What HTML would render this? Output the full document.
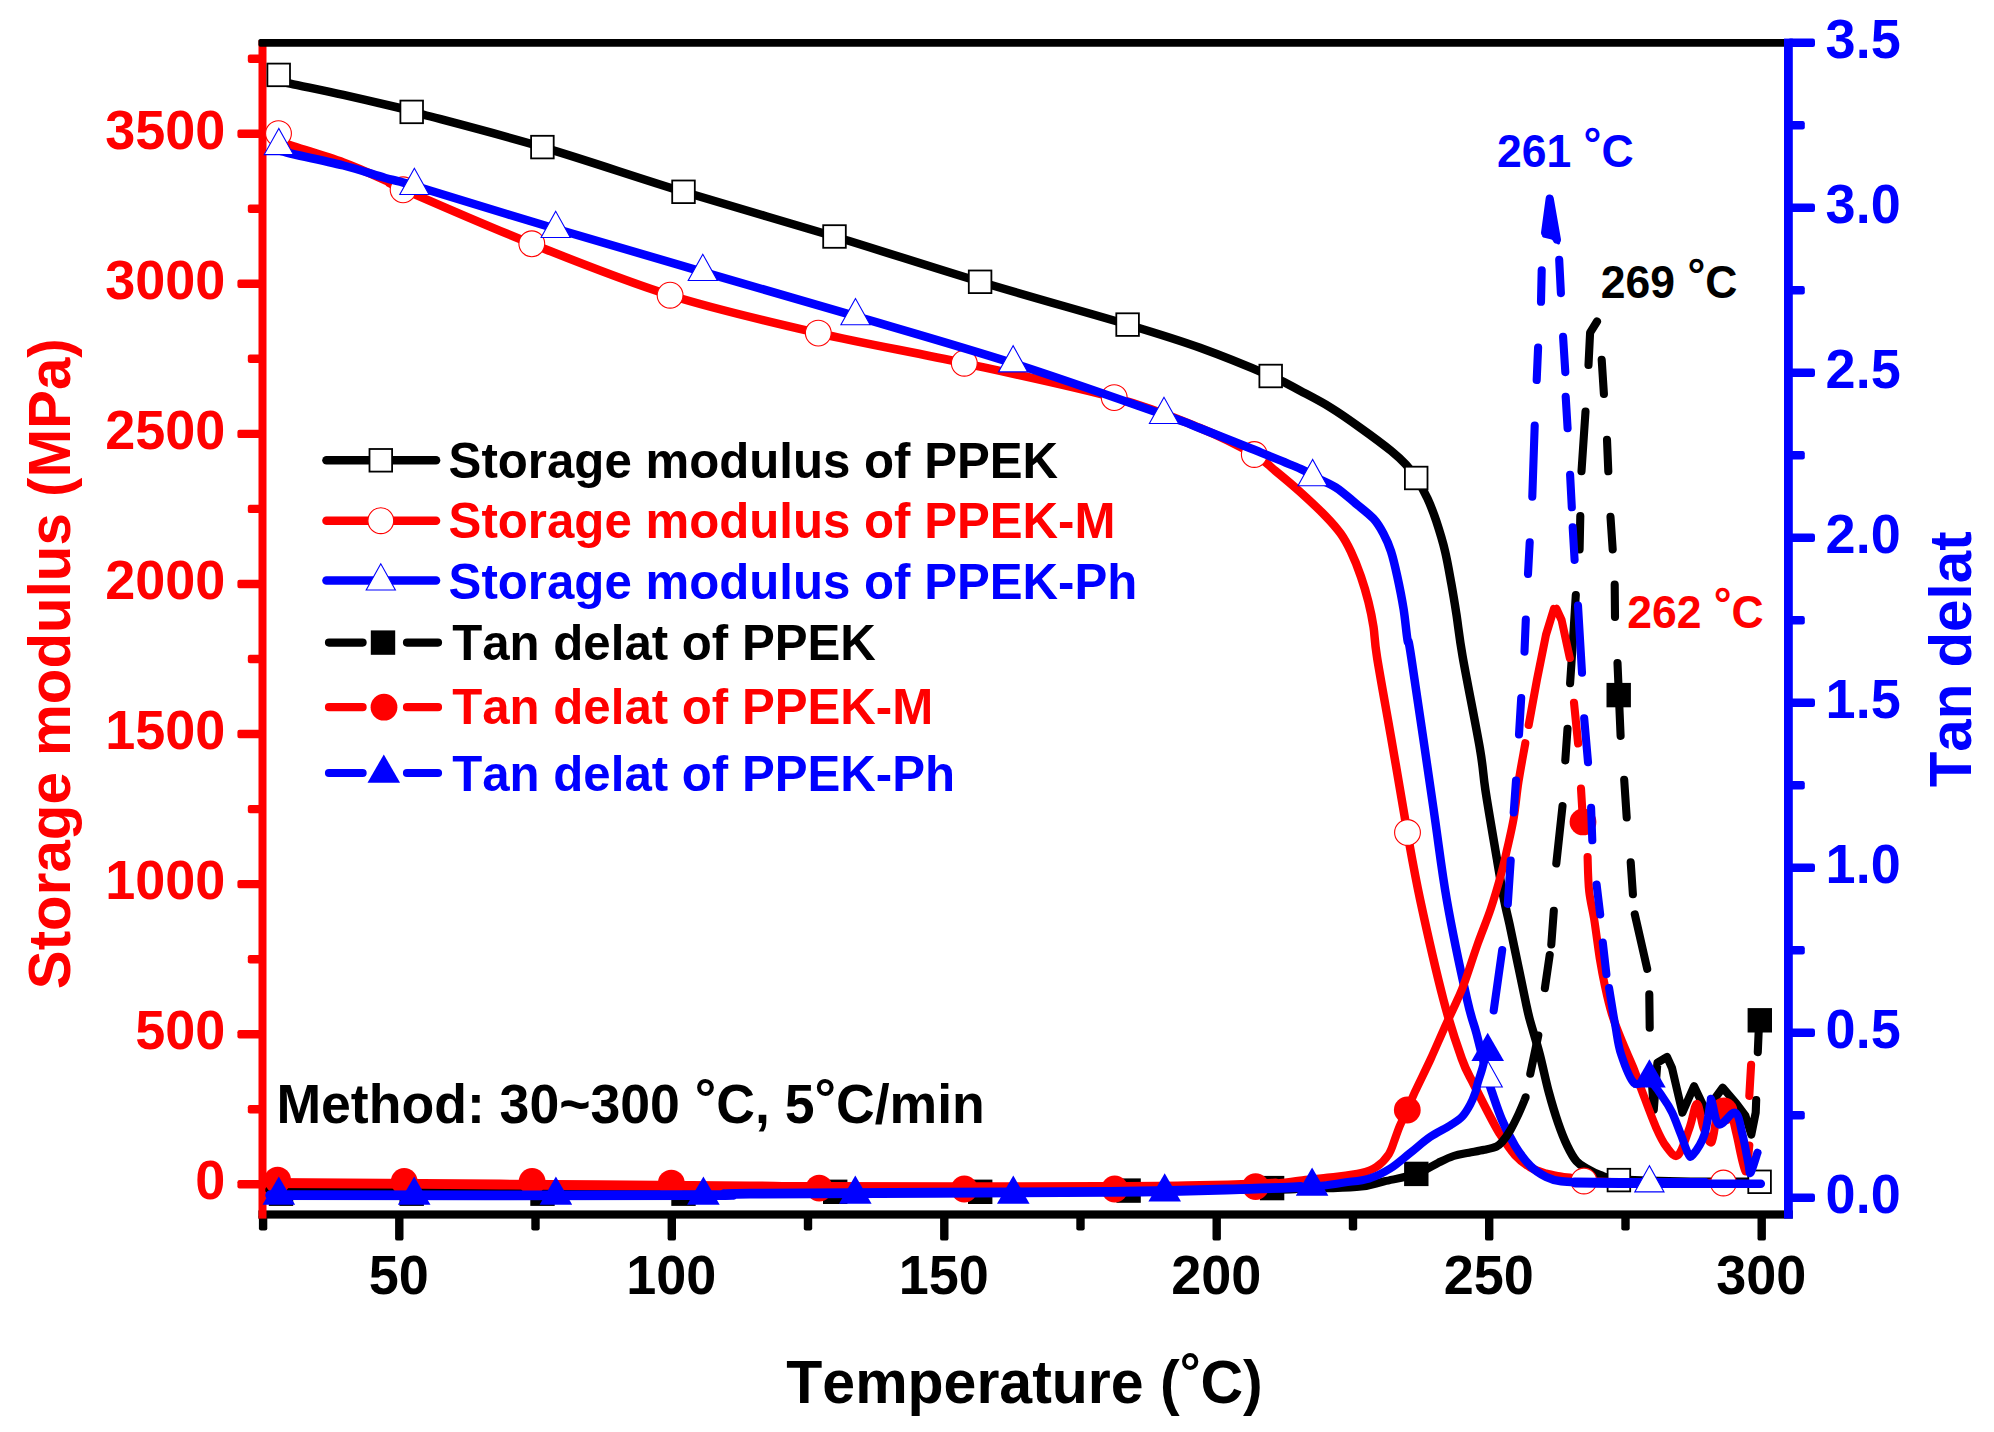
<!DOCTYPE html>
<html lang="en"><head><meta charset="utf-8"><title>DMA curves of PPEK, PPEK-M and PPEK-Ph</title>
<style>html,body{margin:0;padding:0;background:#fff}svg{display:block}text{font-kerning:none;font-feature-settings:'kern' 0;white-space:pre}</style></head>
<body>
<svg width="1994" height="1432" viewBox="0 0 1994 1432">
<rect width="1994" height="1432" fill="#fff"/>
<rect x="258.4" y="1210.4" width="1534.4" height="8.2" fill="#000000"/>
<rect x="258.9" y="1214" width="8.4" height="16.4" rx="2.2" fill="#000000"/>
<rect x="395.1" y="1214" width="8.4" height="26.6" rx="2.2" fill="#000000"/>
<rect x="531.3" y="1214" width="8.4" height="16.4" rx="2.2" fill="#000000"/>
<rect x="667.6" y="1214" width="8.4" height="26.6" rx="2.2" fill="#000000"/>
<rect x="803.8" y="1214" width="8.4" height="16.4" rx="2.2" fill="#000000"/>
<rect x="940.1" y="1214" width="8.4" height="26.6" rx="2.2" fill="#000000"/>
<rect x="1076.3" y="1214" width="8.4" height="16.4" rx="2.2" fill="#000000"/>
<rect x="1212.5" y="1214" width="8.4" height="26.6" rx="2.2" fill="#000000"/>
<rect x="1348.8" y="1214" width="8.4" height="16.4" rx="2.2" fill="#000000"/>
<rect x="1485" y="1214" width="8.4" height="26.6" rx="2.2" fill="#000000"/>
<rect x="1621.3" y="1214" width="8.4" height="16.4" rx="2.2" fill="#000000"/>
<rect x="1757.5" y="1214" width="8.4" height="26.6" rx="2.2" fill="#000000"/>
<rect x="258.5" y="40" width="8" height="1178.6" fill="#ff0000"/>
<rect x="237.4" y="1180.1" width="24.6" height="8.4" rx="2.2" fill="#ff0000"/>
<rect x="247.8" y="1105.1" width="14.2" height="8.4" rx="2.2" fill="#ff0000"/>
<rect x="237.4" y="1030" width="24.6" height="8.4" rx="2.2" fill="#ff0000"/>
<rect x="247.8" y="955" width="14.2" height="8.4" rx="2.2" fill="#ff0000"/>
<rect x="237.4" y="879.9" width="24.6" height="8.4" rx="2.2" fill="#ff0000"/>
<rect x="247.8" y="804.9" width="14.2" height="8.4" rx="2.2" fill="#ff0000"/>
<rect x="237.4" y="729.8" width="24.6" height="8.4" rx="2.2" fill="#ff0000"/>
<rect x="247.8" y="654.8" width="14.2" height="8.4" rx="2.2" fill="#ff0000"/>
<rect x="237.4" y="579.8" width="24.6" height="8.4" rx="2.2" fill="#ff0000"/>
<rect x="247.8" y="504.7" width="14.2" height="8.4" rx="2.2" fill="#ff0000"/>
<rect x="237.4" y="429.7" width="24.6" height="8.4" rx="2.2" fill="#ff0000"/>
<rect x="247.8" y="354.6" width="14.2" height="8.4" rx="2.2" fill="#ff0000"/>
<rect x="237.4" y="279.6" width="24.6" height="8.4" rx="2.2" fill="#ff0000"/>
<rect x="247.8" y="204.5" width="14.2" height="8.4" rx="2.2" fill="#ff0000"/>
<rect x="237.4" y="129.5" width="24.6" height="8.4" rx="2.2" fill="#ff0000"/>
<rect x="247.8" y="54.5" width="14.2" height="8.4" rx="2.2" fill="#ff0000"/>
<rect x="258.4" y="38.9" width="1531.6" height="7.8" rx="2" fill="#000000"/>
<rect x="1784" y="38.6" width="8.8" height="1180" fill="#0000ff"/>
<rect x="1788" y="1193.5" width="27" height="8.4" rx="2.2" fill="#0000ff"/>
<rect x="1788" y="1111" width="16.8" height="8.4" rx="2.2" fill="#0000ff"/>
<rect x="1788" y="1028.5" width="27" height="8.4" rx="2.2" fill="#0000ff"/>
<rect x="1788" y="946" width="16.8" height="8.4" rx="2.2" fill="#0000ff"/>
<rect x="1788" y="863.5" width="27" height="8.4" rx="2.2" fill="#0000ff"/>
<rect x="1788" y="781" width="16.8" height="8.4" rx="2.2" fill="#0000ff"/>
<rect x="1788" y="698.5" width="27" height="8.4" rx="2.2" fill="#0000ff"/>
<rect x="1788" y="616" width="16.8" height="8.4" rx="2.2" fill="#0000ff"/>
<rect x="1788" y="533.5" width="27" height="8.4" rx="2.2" fill="#0000ff"/>
<rect x="1788" y="451" width="16.8" height="8.4" rx="2.2" fill="#0000ff"/>
<rect x="1788" y="368.5" width="27" height="8.4" rx="2.2" fill="#0000ff"/>
<rect x="1788" y="286" width="16.8" height="8.4" rx="2.2" fill="#0000ff"/>
<rect x="1788" y="203.5" width="27" height="8.4" rx="2.2" fill="#0000ff"/>
<rect x="1788" y="121" width="16.8" height="8.4" rx="2.2" fill="#0000ff"/>
<rect x="1788" y="38.5" width="27" height="8.4" rx="2.2" fill="#0000ff"/>
<text transform="translate(225.4 1199.2) scale(1 1.02)" font-size="54" fill="#ff0000" text-anchor="end" font-family="Liberation Sans, Arial, Helvetica, sans-serif" font-weight="bold" font-kerning="none" >0</text>
<text transform="translate(225.4 1049.1) scale(1 1.02)" font-size="54" fill="#ff0000" text-anchor="end" font-family="Liberation Sans, Arial, Helvetica, sans-serif" font-weight="bold" font-kerning="none" >500</text>
<text transform="translate(225.4 899) scale(1 1.02)" font-size="54" fill="#ff0000" text-anchor="end" font-family="Liberation Sans, Arial, Helvetica, sans-serif" font-weight="bold" font-kerning="none" >1000</text>
<text transform="translate(225.4 748.9) scale(1 1.02)" font-size="54" fill="#ff0000" text-anchor="end" font-family="Liberation Sans, Arial, Helvetica, sans-serif" font-weight="bold" font-kerning="none" >1500</text>
<text transform="translate(225.4 598.9) scale(1 1.02)" font-size="54" fill="#ff0000" text-anchor="end" font-family="Liberation Sans, Arial, Helvetica, sans-serif" font-weight="bold" font-kerning="none" >2000</text>
<text transform="translate(225.4 448.8) scale(1 1.02)" font-size="54" fill="#ff0000" text-anchor="end" font-family="Liberation Sans, Arial, Helvetica, sans-serif" font-weight="bold" font-kerning="none" >2500</text>
<text transform="translate(225.4 298.7) scale(1 1.02)" font-size="54" fill="#ff0000" text-anchor="end" font-family="Liberation Sans, Arial, Helvetica, sans-serif" font-weight="bold" font-kerning="none" >3000</text>
<text transform="translate(225.4 148.6) scale(1 1.02)" font-size="54" fill="#ff0000" text-anchor="end" font-family="Liberation Sans, Arial, Helvetica, sans-serif" font-weight="bold" font-kerning="none" >3500</text>
<text transform="translate(1825.6 1213.1) scale(1 1.02)" font-size="54" fill="#0000ff" text-anchor="start" font-family="Liberation Sans, Arial, Helvetica, sans-serif" font-weight="bold" font-kerning="none" >0.0</text>
<text transform="translate(1825.6 1048.1) scale(1 1.02)" font-size="54" fill="#0000ff" text-anchor="start" font-family="Liberation Sans, Arial, Helvetica, sans-serif" font-weight="bold" font-kerning="none" >0.5</text>
<text transform="translate(1825.6 883.1) scale(1 1.02)" font-size="54" fill="#0000ff" text-anchor="start" font-family="Liberation Sans, Arial, Helvetica, sans-serif" font-weight="bold" font-kerning="none" >1.0</text>
<text transform="translate(1825.6 718.1) scale(1 1.02)" font-size="54" fill="#0000ff" text-anchor="start" font-family="Liberation Sans, Arial, Helvetica, sans-serif" font-weight="bold" font-kerning="none" >1.5</text>
<text transform="translate(1825.6 553.1) scale(1 1.02)" font-size="54" fill="#0000ff" text-anchor="start" font-family="Liberation Sans, Arial, Helvetica, sans-serif" font-weight="bold" font-kerning="none" >2.0</text>
<text transform="translate(1825.6 388.1) scale(1 1.02)" font-size="54" fill="#0000ff" text-anchor="start" font-family="Liberation Sans, Arial, Helvetica, sans-serif" font-weight="bold" font-kerning="none" >2.5</text>
<text transform="translate(1825.6 223.1) scale(1 1.02)" font-size="54" fill="#0000ff" text-anchor="start" font-family="Liberation Sans, Arial, Helvetica, sans-serif" font-weight="bold" font-kerning="none" >3.0</text>
<text transform="translate(1825.6 58.1) scale(1 1.02)" font-size="54" fill="#0000ff" text-anchor="start" font-family="Liberation Sans, Arial, Helvetica, sans-serif" font-weight="bold" font-kerning="none" >3.5</text>
<text transform="translate(398.8 1294.3) scale(1 1.02)" font-size="54" fill="#000000" text-anchor="middle" font-family="Liberation Sans, Arial, Helvetica, sans-serif" font-weight="bold" font-kerning="none" >50</text>
<text transform="translate(671.3 1294.3) scale(1 1.02)" font-size="54" fill="#000000" text-anchor="middle" font-family="Liberation Sans, Arial, Helvetica, sans-serif" font-weight="bold" font-kerning="none" >100</text>
<text transform="translate(943.8 1294.3) scale(1 1.02)" font-size="54" fill="#000000" text-anchor="middle" font-family="Liberation Sans, Arial, Helvetica, sans-serif" font-weight="bold" font-kerning="none" >150</text>
<text transform="translate(1216.2 1294.3) scale(1 1.02)" font-size="54" fill="#000000" text-anchor="middle" font-family="Liberation Sans, Arial, Helvetica, sans-serif" font-weight="bold" font-kerning="none" >200</text>
<text transform="translate(1488.7 1294.3) scale(1 1.02)" font-size="54" fill="#000000" text-anchor="middle" font-family="Liberation Sans, Arial, Helvetica, sans-serif" font-weight="bold" font-kerning="none" >250</text>
<text transform="translate(1761.2 1294.3) scale(1 1.02)" font-size="54" fill="#000000" text-anchor="middle" font-family="Liberation Sans, Arial, Helvetica, sans-serif" font-weight="bold" font-kerning="none" >300</text>
<text transform="translate(1024.5 1402.9) scale(1 1.02)" font-size="59" fill="#000000" text-anchor="middle" font-family="Liberation Sans, Arial, Helvetica, sans-serif" font-weight="bold" font-kerning="none" >Temperature (<tspan font-size="52" dy="-11.2">°</tspan><tspan dy="11.2">C)</tspan></text>
<text transform="translate(70 663.7) rotate(-90) scale(1 1.02)" font-size="58.3" fill="#ff0000" text-anchor="middle" font-family="Liberation Sans, Arial, Helvetica, sans-serif" font-weight="bold" font-kerning="none" >Storage modulus (MPa)</text>
<text transform="translate(1970.6 659.4) rotate(-90) scale(1 1.02)" font-size="58.3" fill="#0000ff" text-anchor="middle" font-family="Liberation Sans, Arial, Helvetica, sans-serif" font-weight="bold" font-kerning="none" >Tan delat</text>
<path d="M278.6 80.5C280.6 81 279.6 81.2 290.4 83.6C301.2 86 325.1 90.8 343.4 94.9C361.7 99 388.6 105.2 400 108C411.4 110.8 388 105 411.7 111.5C435.4 118 497.1 133.7 542.4 147.1C587.7 160.5 634.8 176.9 683.5 191.8C732.2 206.7 785.1 221.5 834.5 236.5C883.9 251.5 931.2 267.1 980.1 281.8C1029 296.5 1090.9 313.6 1127.6 324.6C1164.2 335.6 1176.2 339.2 1200 347.8C1223.8 356.4 1253.9 368.8 1270.7 376C1287.5 383.2 1290.6 385.7 1300.6 391C1310.6 396.3 1320.7 401.4 1330.7 407.6C1340.8 413.8 1350.9 421 1360.9 428.2C1371 435.4 1383.5 444.7 1391 450.8C1398.5 456.9 1401.8 460.2 1406 464.7C1410.2 469.2 1412.6 472.4 1416.2 478C1419.8 483.6 1424.2 491.4 1427.5 498.6C1430.8 505.8 1433.4 512.4 1436.3 521.2C1439.2 530 1442.6 540.9 1445.1 551.4C1447.6 561.9 1449.5 573.6 1451.4 584.1C1453.3 594.6 1454.5 602.1 1456.4 614.2C1458.3 626.4 1458.8 634.6 1462.7 657C1466.6 679.4 1476.1 726.3 1479.9 748.5C1483.7 770.7 1482.6 771.5 1485.4 790C1488.2 808.5 1493.9 841.3 1497 859.6C1500.1 877.9 1502 889.2 1504.1 900C1506.2 910.8 1507.2 913.3 1509.5 924.2C1511.8 935.1 1515.5 952.7 1518.1 965.3C1520.7 977.9 1523.4 991 1525.3 1000C1527.2 1009 1527.2 1010 1529.6 1019C1532 1028 1536.4 1041.6 1539.6 1053.8C1542.8 1066 1545.7 1080.7 1548.8 1092.2C1551.9 1103.7 1555 1114 1558.1 1122.9C1561.2 1131.9 1564.2 1139.5 1567.3 1145.9C1570.4 1152.3 1573.2 1157.5 1576.5 1161.3C1579.8 1165.1 1583.4 1166.7 1587.3 1169C1591.2 1171.3 1594.7 1173.3 1600 1175.1C1605.3 1176.8 1605.6 1178.4 1618.9 1179.5C1632.2 1180.6 1656.5 1181.1 1680 1181.5C1703.5 1181.9 1746.3 1181.8 1759.6 1181.8" fill="none" stroke="#000000" stroke-width="8.5" stroke-linecap="round" stroke-linejoin="round"/>
<rect x="267.4" y="63.6" width="22.6" height="22.6" fill="#fff" stroke="#000000" stroke-width="1.8"/>
<rect x="400.4" y="100.6" width="22.6" height="22.6" fill="#fff" stroke="#000000" stroke-width="1.8"/>
<rect x="531.1" y="135.8" width="22.6" height="22.6" fill="#fff" stroke="#000000" stroke-width="1.8"/>
<rect x="672.2" y="180.5" width="22.6" height="22.6" fill="#fff" stroke="#000000" stroke-width="1.8"/>
<rect x="823.2" y="225.2" width="22.6" height="22.6" fill="#fff" stroke="#000000" stroke-width="1.8"/>
<rect x="968.8" y="270.5" width="22.6" height="22.6" fill="#fff" stroke="#000000" stroke-width="1.8"/>
<rect x="1116.3" y="313.3" width="22.6" height="22.6" fill="#fff" stroke="#000000" stroke-width="1.8"/>
<rect x="1259.4" y="364.7" width="22.6" height="22.6" fill="#fff" stroke="#000000" stroke-width="1.8"/>
<rect x="1404.9" y="466.7" width="22.6" height="22.6" fill="#fff" stroke="#000000" stroke-width="1.8"/>
<rect x="1607.6" y="1168.8" width="22.6" height="22.6" fill="#fff" stroke="#000000" stroke-width="1.8"/>
<rect x="1748.3" y="1170.5" width="22.6" height="22.6" fill="#fff" stroke="#000000" stroke-width="1.8"/>
<path d="M278.5 140.5C280.5 141.3 279.6 141.5 290.4 145.2C301.2 148.8 327.6 156.6 343.4 162.4C359.2 168.2 375.4 175.8 385.3 180.3C395.2 184.8 378.7 178.6 403.1 189.2C427.5 199.8 487.3 226.1 531.8 243.8C576.3 261.5 622.4 280.3 670.1 295.2C717.9 310.1 769.3 321.8 818.3 333.1C867.3 344.4 915 352.4 964.3 363.2C1013.6 373.9 1074.9 386.8 1114.2 397.6C1153.5 408.4 1176.7 418.5 1200 428C1223.3 437.5 1241.7 447.4 1254.3 454.5C1266.9 461.6 1267.7 464.6 1275.4 470.9C1283.1 477.2 1292.2 484.8 1300.6 492.3C1309 499.9 1319 509.3 1325.7 516.2C1332.4 523.1 1336.6 527.9 1340.8 533.8C1345 539.7 1347.4 544.3 1350.8 551.4C1354.2 558.5 1358 568.1 1360.9 576.5C1363.8 584.9 1366.3 593.3 1368.4 601.7C1370.5 610.1 1372.1 617.6 1373.5 626.8C1374.9 636 1374.1 638.6 1377 657C1379.9 675.4 1386.4 710.5 1391 737C1395.6 763.5 1401.8 799.8 1404.5 815.7C1407.2 831.6 1404.7 818.5 1407.3 832.5C1409.9 846.5 1414.2 872.1 1420.2 900C1426.2 927.9 1436.6 973.5 1443.5 1000C1450.4 1026.5 1456.8 1044.7 1461.8 1058.7C1466.8 1072.7 1468.5 1073.8 1473.5 1083.8C1478.5 1093.8 1487.1 1110.7 1491.5 1119C1495.9 1127.3 1495.8 1127.6 1499.7 1133.6C1503.6 1139.6 1510 1149.5 1515.1 1155.1C1520.2 1160.7 1525.3 1164.3 1530.4 1167.4C1535.5 1170.5 1540.7 1172 1545.8 1173.6C1550.9 1175.1 1556.8 1175.9 1561.1 1176.7C1565.4 1177.5 1568.1 1177.5 1571.9 1178.2C1575.7 1178.9 1570.9 1180.2 1583.9 1181C1596.9 1181.8 1626.8 1182.7 1650 1183C1673.2 1183.3 1711.2 1183 1723.4 1183" fill="none" stroke="#ff0000" stroke-width="8.5" stroke-linecap="round" stroke-linejoin="round"/>
<circle cx="278.5" cy="133.6" r="12.9" fill="#fff" stroke="#ff0000" stroke-width="1.1"/>
<circle cx="403.1" cy="189.8" r="12.9" fill="#fff" stroke="#ff0000" stroke-width="1.1"/>
<circle cx="531.8" cy="243.8" r="12.9" fill="#fff" stroke="#ff0000" stroke-width="1.1"/>
<circle cx="670.1" cy="295.2" r="12.9" fill="#fff" stroke="#ff0000" stroke-width="1.1"/>
<circle cx="818.3" cy="333.1" r="12.9" fill="#fff" stroke="#ff0000" stroke-width="1.1"/>
<circle cx="964.3" cy="363.2" r="12.9" fill="#fff" stroke="#ff0000" stroke-width="1.1"/>
<circle cx="1114.2" cy="397.6" r="12.9" fill="#fff" stroke="#ff0000" stroke-width="1.1"/>
<circle cx="1254.3" cy="454.5" r="12.9" fill="#fff" stroke="#ff0000" stroke-width="1.1"/>
<circle cx="1407.5" cy="832.5" r="12.9" fill="#fff" stroke="#ff0000" stroke-width="1.1"/>
<circle cx="1583.9" cy="1181" r="12.9" fill="#fff" stroke="#ff0000" stroke-width="1.1"/>
<circle cx="1723.4" cy="1183" r="12.9" fill="#fff" stroke="#ff0000" stroke-width="1.1"/>
<path d="M278.8 150.5C280.7 151 279.6 151 290.4 153.5C301.2 156 327.6 161.4 343.4 165.5C359.2 169.6 373.5 174.6 385.3 178C397.1 181.4 386 177.3 414.4 185.8C442.8 194.3 507.6 214.5 555.7 228.8C603.8 243.1 652.8 257.2 702.8 271.8C752.8 286.4 803.8 300.9 855.5 316.1C907.2 331.3 961.7 346.8 1013.1 363.2C1064.5 379.6 1132.8 404 1164 414.8C1195.2 425.6 1185.6 422.6 1200 428.2C1214.4 433.8 1233.5 441.5 1250.3 448.3C1267.1 455.1 1290.2 464.3 1300.6 468.9C1311 473.5 1306.8 472.9 1312.6 476C1318.4 479.1 1328.5 482.7 1335.7 487.3C1342.9 491.9 1349.6 498.4 1355.9 503.6C1362.2 508.8 1368.9 513.7 1373.5 518.7C1378.1 523.7 1380.6 528.3 1383.5 533.8C1386.4 539.2 1388.7 544.3 1391 551.4C1393.3 558.5 1395.2 566.9 1397.3 576.5C1399.4 586.1 1401.9 598.6 1403.6 609.2C1405.3 619.8 1406.2 632 1407.5 640C1408.8 648 1406.9 629 1411.2 657C1415.5 685 1427.5 767.5 1433.4 808C1439.3 848.5 1441.2 868 1446.8 900C1452.4 932 1462.2 977.8 1467.2 1000C1472.2 1022.2 1473.1 1020.5 1476.5 1033.5C1479.9 1046.5 1485.1 1068.2 1487.7 1078C1490.3 1087.8 1489.6 1085.2 1492 1092.2C1494.4 1099.2 1498.2 1111 1502 1120C1505.8 1129 1510.4 1138.2 1515.1 1145.9C1519.8 1153.6 1525.3 1160.8 1530.4 1165.9C1535.5 1171 1540.7 1174.1 1545.8 1176.7C1550.9 1179.3 1552.1 1180.2 1561.1 1181.3C1570.1 1182.3 1580.2 1182.6 1600 1183C1619.8 1183.4 1653.2 1183.5 1680 1183.6C1706.8 1183.7 1747.3 1183.8 1760.8 1183.8" fill="none" stroke="#0000ff" stroke-width="8.5" stroke-linecap="round" stroke-linejoin="round"/>
<path d="M1575 1182.6L1620 1183H1705" fill="none" stroke="#0000ff" stroke-width="10" stroke-linecap="round"/>
<polygon points="278.8,128.4 264.2,154.6 293.4,154.6" fill="#fff" stroke="#0000ff" stroke-width="1.1" stroke-linejoin="miter"/>
<polygon points="414.4,168.3 399.8,194.5 429,194.5" fill="#fff" stroke="#0000ff" stroke-width="1.1" stroke-linejoin="miter"/>
<polygon points="555.7,211.3 541.1,237.5 570.3,237.5" fill="#fff" stroke="#0000ff" stroke-width="1.1" stroke-linejoin="miter"/>
<polygon points="702.8,254.3 688.2,280.5 717.4,280.5" fill="#fff" stroke="#0000ff" stroke-width="1.1" stroke-linejoin="miter"/>
<polygon points="855.5,298.6 840.9,324.8 870.1,324.8" fill="#fff" stroke="#0000ff" stroke-width="1.1" stroke-linejoin="miter"/>
<polygon points="1013.1,345.7 998.5,371.9 1027.7,371.9" fill="#fff" stroke="#0000ff" stroke-width="1.1" stroke-linejoin="miter"/>
<polygon points="1164,397.3 1149.4,423.5 1178.6,423.5" fill="#fff" stroke="#0000ff" stroke-width="1.1" stroke-linejoin="miter"/>
<polygon points="1312.6,459.5 1298,485.7 1327.2,485.7" fill="#fff" stroke="#0000ff" stroke-width="1.1" stroke-linejoin="miter"/>
<polygon points="1487.7,1060.8 1473.1,1087 1502.3,1087" fill="#fff" stroke="#0000ff" stroke-width="1.1" stroke-linejoin="miter"/>
<polygon points="1649.4,1165.7 1634.8,1191.9 1664,1191.9" fill="#fff" stroke="#0000ff" stroke-width="1.1" stroke-linejoin="miter"/>
<path d="M270.3 1190C341.9 1190.1 561.7 1190.5 700 1190.5C838.3 1190.5 1008.3 1190.2 1100 1190C1191.7 1189.8 1217.4 1189.2 1250 1189C1282.6 1188.8 1288.1 1188.6 1295.7 1188.5" fill="none" stroke="#000000" stroke-width="9.6" stroke-linecap="round" stroke-linejoin="round"/>
<path d="M269.5 1190C341.3 1190.1 561.6 1190.5 700 1190.5C838.4 1190.5 1008.3 1190.2 1100 1190C1191.7 1189.8 1212.1 1189.3 1250 1189C1287.9 1188.7 1309 1188.6 1327.6 1188.2C1346.2 1187.8 1351.9 1187.8 1361.4 1186.6C1370.9 1185.4 1375.3 1183.4 1384.5 1181.3C1393.7 1179.2 1407.3 1177 1416.3 1173.9C1425.2 1170.8 1432 1165.8 1438.2 1162.8C1444.4 1159.8 1448.5 1157.7 1453.6 1156C1458.7 1154.3 1463.9 1153.8 1469 1152.8C1474.1 1151.8 1479.7 1150.8 1484.3 1149.8C1488.9 1148.8 1493.6 1147.9 1496.6 1146.5C1499.6 1145.1 1500.1 1144.2 1502.4 1141.5C1504.7 1138.8 1507.7 1134.7 1510.4 1130.1C1513.1 1125.5 1516.1 1119.2 1518.5 1114.1C1520.9 1108.9 1523.7 1102 1524.9 1099.2C1526.1 1096.4 1525.4 1097.7 1525.5 1097.4M1530.3 1073.7L1538.3 1035.5M1544.9 988.1L1549.7 955M1551.3 944.5L1553.8 910.9M1556.3 863.5L1562.5 806.1M1565.3 760.4L1567.5 728.8M1570.1 683.2L1573 640L1575.8 595M1579.6 549.4L1580.3 516M1581.5 471.3L1585.5 411.6M1588.5 365L1590.1 332.6L1597 321.5M1601.7 359.7L1603.9 394M1607 439.7L1608.3 471.3M1610.5 516.9L1612.7 549.4M1614.7 584.5L1615 617M1617.5 663L1620.6 735.9M1624.2 779.7L1626.7 817.5M1630.7 862.2L1632.9 894.2M1634.8 914.4L1647.2 968.8M1649.3 994.3L1649.7 1027.6M1651.8 1081.5L1653.8 1109.7L1657.4 1062.8L1667 1056.9L1672 1068L1682.4 1112.6L1694.1 1086.2L1705.8 1111L1722.7 1087.7L1736.6 1103.8L1745.4 1115.6L1751.3 1134.6L1755.7 1112.6L1756.2 1100M1757.8 1052.2L1758.6 1033L1759.5 1023.8" fill="none" stroke="#000000" stroke-width="8.1" stroke-linecap="round" stroke-linejoin="round"/>
<rect x="268.8" y="1181.5" width="24.4" height="24.4" fill="#000000"/>
<rect x="399.5" y="1181.5" width="24.4" height="24.4" fill="#000000"/>
<rect x="530.3" y="1181.5" width="24.4" height="24.4" fill="#000000"/>
<rect x="671.3" y="1181.5" width="24.4" height="24.4" fill="#000000"/>
<rect x="823" y="1179.6" width="24.4" height="24.4" fill="#000000"/>
<rect x="968" y="1179.6" width="24.4" height="24.4" fill="#000000"/>
<rect x="1116.4" y="1178.4" width="24.4" height="24.4" fill="#000000"/>
<rect x="1259.9" y="1175.9" width="24.4" height="24.4" fill="#000000"/>
<rect x="1404.1" y="1161.7" width="24.4" height="24.4" fill="#000000"/>
<rect x="1606.5" y="682.9" width="24.4" height="24.4" fill="#000000"/>
<rect x="1747.6" y="1008.1" width="24.4" height="24.4" fill="#000000"/>
<path d="M270.4 1183C308.7 1183.3 420.1 1183.9 500 1184.5C579.9 1185.1 696.7 1186 750 1186.4C803.3 1186.8 761.7 1186.9 820 1187C878.3 1187.1 1036.7 1187.2 1100 1187C1163.3 1186.8 1174.2 1186.4 1200 1186C1225.8 1185.6 1242.4 1185 1255 1184.5C1267.6 1184 1272.2 1183.5 1275.6 1183.3" fill="none" stroke="#ff0000" stroke-width="9.8" stroke-linecap="round" stroke-linejoin="round"/>
<path d="M269.5 1183C308 1183.3 419.9 1183.9 500 1184.5C580.1 1185.1 696.7 1186 750 1186.4C803.3 1186.8 761.7 1186.9 820 1187C878.3 1187.1 1036.7 1187.2 1100 1187C1163.3 1186.8 1174.2 1186.4 1200 1186C1225.8 1185.6 1241.7 1185 1255 1184.5C1268.3 1184 1272.5 1183.7 1280 1183C1287.5 1182.3 1291.5 1181.5 1300 1180.5C1308.5 1179.5 1320.5 1178.5 1330.7 1177.3C1340.9 1176 1353.4 1174.7 1361 1173C1368.6 1171.3 1371.8 1170 1376.4 1166.9C1381 1163.8 1385.6 1158.9 1388.6 1154.4C1391.6 1149.9 1392.8 1144.7 1394.6 1140C1396.4 1135.3 1397.6 1131.1 1399.7 1126.1C1401.8 1121.1 1404.8 1115.7 1407.3 1110C1409.8 1104.3 1410.9 1100.8 1414.8 1092.2C1418.7 1083.7 1426 1069.2 1430.8 1058.7C1435.6 1048.2 1439.4 1039.1 1443.8 1029.3C1448.2 1019.5 1453.9 1007.7 1457.3 1000C1460.7 992.3 1461 992.4 1464.4 982.9C1467.9 973.4 1473.6 955.3 1478 943C1482.4 930.7 1486.8 920.5 1490.7 909C1494.6 897.5 1498.5 883.8 1501.2 873.8C1504 863.8 1505.1 858.1 1507.2 848.7C1509.3 839.4 1511.9 828.8 1513.8 817.7C1515.7 806.6 1516.6 794.4 1518.5 782C1520.4 769.6 1524.2 749.7 1525.3 743.2M1528.7 725L1537 679.4L1546 634.7L1553.9 609M1556.4 608.8L1561.6 620L1569.8 658M1574 702.7L1578.1 743.5M1581 788.5L1582.8 818.4M1587.6 857C1587.8 862.8 1588 880.9 1589.2 891.6C1590.4 902.3 1592.8 910.3 1594.5 921.4C1596.2 932.5 1598 947.5 1599.7 958.3C1601.5 969.1 1603 977 1605 986.4C1607 995.8 1609.1 1005.1 1612 1014.5C1614.9 1023.9 1619.1 1033.8 1622.6 1042.6C1626.1 1051.4 1630 1059.3 1633.1 1067.1C1636.2 1074.9 1637.5 1079.2 1641.3 1089.2C1645.1 1099.2 1651.8 1117.8 1656 1127.3C1660.2 1136.8 1662.5 1141.8 1666.2 1146.4C1669.9 1151.1 1674.1 1158.4 1678 1155.2C1681.9 1152 1686.5 1135.9 1689.7 1127.3C1692.9 1118.7 1694.7 1103.7 1697 1103.8C1699.3 1103.9 1701 1121.6 1703.5 1128C1706 1134.4 1709.4 1144.7 1711.7 1142C1714 1139.3 1715.5 1117.5 1717.6 1112C1719.6 1106.5 1721.8 1109 1724 1109C1726.2 1109 1728.7 1107.7 1730.8 1112C1732.9 1116.3 1734.2 1124.7 1736.6 1134.6C1739 1144.5 1743.3 1169.5 1745.4 1171.3C1747.5 1173.1 1748.6 1149.8 1749.3 1145.5M1749.3 1095.9L1751.1 1064.8" fill="none" stroke="#ff0000" stroke-width="8.1" stroke-linecap="round" stroke-linejoin="round"/>
<circle cx="277.6" cy="1180.1" r="13.4" fill="#ff0000"/>
<circle cx="404.2" cy="1181.4" r="13.4" fill="#ff0000"/>
<circle cx="532.1" cy="1181.4" r="13.4" fill="#ff0000"/>
<circle cx="671.3" cy="1183.1" r="13.4" fill="#ff0000"/>
<circle cx="819.2" cy="1188.1" r="13.4" fill="#ff0000"/>
<circle cx="964.3" cy="1189" r="13.4" fill="#ff0000"/>
<circle cx="1114.7" cy="1189" r="13.4" fill="#ff0000"/>
<circle cx="1255.6" cy="1186.6" r="13.4" fill="#ff0000"/>
<circle cx="1407.3" cy="1110" r="13.4" fill="#ff0000"/>
<circle cx="1583" cy="821.9" r="13.4" fill="#ff0000"/>
<circle cx="1724" cy="1111" r="13.4" fill="#ff0000"/>
<path d="M270.4 1195.2C342 1195.2 620.1 1195.5 700 1195.2C779.9 1194.9 681.7 1194.2 750 1193.6C818.3 1193 1026.7 1192.6 1110 1191.8C1193.3 1191 1218.2 1189.6 1250 1188.8C1281.8 1188 1292.2 1187.3 1300.6 1187" fill="none" stroke="#0000ff" stroke-width="9.8" stroke-linecap="round" stroke-linejoin="round"/>
<path d="M269.6 1195.2C341.3 1195.2 619.9 1195.5 700 1195.2C780.1 1194.9 681.7 1194.2 750 1193.6C818.3 1193 1026.7 1192.6 1110 1191.8C1193.3 1191 1216.2 1189.7 1250 1188.8C1283.8 1187.9 1296.9 1187.5 1312.6 1186.5C1328.3 1185.5 1334.9 1183.8 1344.3 1182.5C1353.7 1181.2 1361.4 1180.9 1369 1178.6C1376.6 1176.3 1383.2 1173 1390 1168.7C1396.8 1164.4 1403.4 1158.3 1410.1 1153C1416.8 1147.7 1423.5 1141.5 1430.2 1136.9C1436.9 1132.3 1445 1128.7 1450.3 1125.3C1455.6 1121.9 1459 1120 1462.3 1116.5C1465.6 1113 1468.1 1108.5 1470.3 1104.4C1472.5 1100.3 1474.3 1095.4 1475.5 1092C1476.7 1088.6 1476.5 1087.3 1477.5 1083.8C1478.5 1080.3 1480.4 1074.8 1481.5 1071.2C1482.6 1067.6 1483.1 1065.5 1484 1062C1484.9 1058.5 1486.4 1052.4 1486.8 1050.4M1493.7 1010.5L1502.2 950M1507.8 903.9L1510.7 860.5M1513.7 812.5L1516 780.5M1519 734.5L1521.2 698M1524.5 651.6L1525.8 619.6M1528 574L1529.7 542.4M1532.3 496.7L1534.7 425.6M1536.7 380L1538.1 347.5M1541 301.8L1541.7 270.2M1545.1 232.5L1549.7 198.5L1556.9 239.5M1559.2 259.7L1560.9 293.1M1563.1 336.9L1565.3 372.1M1565.7 396.7L1567.6 428.3M1570.1 474.8L1571.8 507.3M1572.7 527.4L1574.6 559.9M1578 605.5L1582 672.7M1584.2 718.3L1588 762.2M1591.1 807.8L1592.3 840.3M1596.6 884.6L1600.2 914.4M1602.8 942.5L1606.4 974.1M1609.1 988.1C1610.2 994.6 1613.5 1015.8 1615.5 1026.8C1617.5 1037.8 1617.9 1044.6 1621 1054C1624.1 1063.4 1629.3 1078.5 1634 1083C1638.7 1087.5 1644.5 1078.5 1649.4 1081C1654.3 1083.5 1659.5 1092.7 1663.3 1098C1667.1 1103.3 1669.2 1106.5 1672.1 1112.6C1675 1118.7 1678.2 1127.8 1680.9 1134.6C1683.6 1141.4 1686.2 1150.3 1688.2 1153.7C1690.2 1157.1 1689.9 1158.4 1692.6 1155.2C1695.3 1152 1701.5 1143.2 1704.4 1134.6C1707.3 1126 1709 1109.4 1710.2 1103.8C1711.4 1098.2 1710.2 1097.5 1711.7 1100.9C1713.2 1104.3 1715.1 1122.5 1719 1124.4C1722.9 1126.4 1731.3 1110.9 1735.2 1112.6C1739.1 1114.3 1740.3 1126 1742.5 1134.6C1744.7 1143.2 1747.1 1157.6 1748.4 1164C1749.8 1170.4 1749.1 1174.7 1750.6 1172.8C1752.1 1170.9 1756.3 1156 1757.5 1152.7" fill="none" stroke="#0000ff" stroke-width="8.1" stroke-linecap="round" stroke-linejoin="round"/>
<path d="M1543.6 236 L1549.7 196.5 L1558.5 243 L1552 238 Z" fill="#0000ff" stroke="#0000ff" stroke-width="3" stroke-linejoin="round"/>
<polygon points="278.8,1176.5 262.5,1204.7 295.1,1204.7" fill="#0000ff"/>
<polygon points="414.2,1176.5 397.9,1204.7 430.5,1204.7" fill="#0000ff"/>
<polygon points="555.9,1176.5 539.6,1204.7 572.2,1204.7" fill="#0000ff"/>
<polygon points="703.4,1176.5 687.1,1204.7 719.7,1204.7" fill="#0000ff"/>
<polygon points="855.3,1175.6 839,1203.8 871.6,1203.8" fill="#0000ff"/>
<polygon points="1013.3,1175.6 997,1203.8 1029.6,1203.8" fill="#0000ff"/>
<polygon points="1164.7,1173.2 1148.4,1201.4 1181,1201.4" fill="#0000ff"/>
<polygon points="1312.1,1167.6 1295.8,1195.8 1328.4,1195.8" fill="#0000ff"/>
<polygon points="1487.7,1032.7 1471.4,1060.9 1504,1060.9" fill="#0000ff"/>
<polygon points="1649.4,1059.2 1633.1,1087.4 1665.7,1087.4" fill="#0000ff"/>
<path d="M326.5 460.3H436" stroke="#000000" stroke-width="8.6" stroke-linecap="round" fill="none"/>
<rect x="369.5" y="449" width="22.6" height="22.6" fill="#fff" stroke="#000000" stroke-width="1.8"/>
<text transform="translate(448.6 477.9) scale(1 1.02)" font-size="49.2" fill="#000000" text-anchor="start" font-family="Liberation Sans, Arial, Helvetica, sans-serif" font-weight="bold" font-kerning="none" >Storage modulus of PPEK</text>
<path d="M326.5 520.7H436" stroke="#ff0000" stroke-width="8.6" stroke-linecap="round" fill="none"/>
<circle cx="380.8" cy="520.7" r="12.9" fill="#fff" stroke="#ff0000" stroke-width="1.1"/>
<text transform="translate(448.6 537.8) scale(1 1.02)" font-size="49.2" fill="#ff0000" text-anchor="start" font-family="Liberation Sans, Arial, Helvetica, sans-serif" font-weight="bold" font-kerning="none" >Storage modulus of PPEK-M</text>
<path d="M326.5 580.5H436" stroke="#0000ff" stroke-width="8.6" stroke-linecap="round" fill="none"/>
<polygon points="380.8,563.8 366.2,590 395.4,590" fill="#fff" stroke="#0000ff" stroke-width="1.1" stroke-linejoin="miter"/>
<text transform="translate(448.6 598.6) scale(1 1.02)" font-size="49.2" fill="#0000ff" text-anchor="start" font-family="Liberation Sans, Arial, Helvetica, sans-serif" font-weight="bold" font-kerning="none" >Storage modulus of PPEK-Ph</text>
<path d="M329 642.6H362.6M407 642.6H438" stroke="#000000" stroke-width="8.2" stroke-linecap="round" fill="none"/>
<rect x="370.8" y="630.4" width="24.4" height="24.4" fill="#000000"/>
<text transform="translate(452.2 660.2) scale(1 1.02)" font-size="49.2" fill="#000000" text-anchor="start" font-family="Liberation Sans, Arial, Helvetica, sans-serif" font-weight="bold" font-kerning="none" >Tan delat of PPEK</text>
<path d="M329 707.2H362.6M407 707.2H438" stroke="#ff0000" stroke-width="8.2" stroke-linecap="round" fill="none"/>
<circle cx="384" cy="707.2" r="13.4" fill="#ff0000"/>
<text transform="translate(452.2 724.3) scale(1 1.02)" font-size="49.2" fill="#ff0000" text-anchor="start" font-family="Liberation Sans, Arial, Helvetica, sans-serif" font-weight="bold" font-kerning="none" >Tan delat of PPEK-M</text>
<path d="M329 773H362.6M407 773H438" stroke="#0000ff" stroke-width="8.2" stroke-linecap="round" fill="none"/>
<polygon points="383.8,754.5 367.5,782.7 400.1,782.7" fill="#0000ff"/>
<text transform="translate(452.2 790.6) scale(1 1.02)" font-size="49.2" fill="#0000ff" text-anchor="start" font-family="Liberation Sans, Arial, Helvetica, sans-serif" font-weight="bold" font-kerning="none" >Tan delat of PPEK-Ph</text>
<text transform="translate(1497 167.2) scale(1 1.02)" font-size="44.5" fill="#0000ff" text-anchor="start" font-family="Liberation Sans, Arial, Helvetica, sans-serif" font-weight="bold" font-kerning="none" >261 <tspan dy="-7.5">°</tspan><tspan dy="7.5">C</tspan></text>
<text transform="translate(1600.8 298.3) scale(1 1.02)" font-size="44.5" fill="#000000" text-anchor="start" font-family="Liberation Sans, Arial, Helvetica, sans-serif" font-weight="bold" font-kerning="none" >269 <tspan dy="-7.5">°</tspan><tspan dy="7.5">C</tspan></text>
<text transform="translate(1627.2 627.5) scale(1 1.02)" font-size="44.5" fill="#ff0000" text-anchor="start" font-family="Liberation Sans, Arial, Helvetica, sans-serif" font-weight="bold" font-kerning="none" >262 <tspan dy="-7.5">°</tspan><tspan dy="7.5">C</tspan></text>
<text transform="translate(276.4 1122.6) scale(1 1.02)" font-size="53.6" fill="#000000" text-anchor="start" font-family="Liberation Sans, Arial, Helvetica, sans-serif" font-weight="bold" font-kerning="none" >Method: 30~300 <tspan dy="-4.2">°</tspan><tspan dy="4.2">C, 5</tspan><tspan dy="-4.2">°</tspan><tspan dy="4.2">C/min</tspan></text>
</svg>
</body></html>
